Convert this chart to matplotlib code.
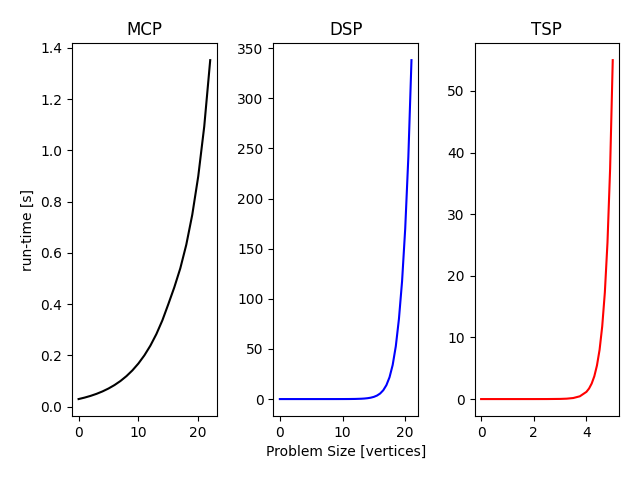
import matplotlib
matplotlib.use("Agg")
import matplotlib.pyplot as plt

titles = ["MCP", "DSP", "TSP"]
colors = ["black", "blue", "red"]

mcp_x = [0, 1, 2, 3, 4, 5, 6, 7, 8, 9, 10, 11, 12, 13, 14, 15, 16, 17, 18, 19, 20, 21, 22]
mcp_y = [0.0300, 0.0357, 0.0424, 0.0504, 0.0599, 0.0712, 0.0846, 0.1005, 0.1195, 0.1420,
         0.1688, 0.2006, 0.2384, 0.2834, 0.3368, 0.4003, 0.466, 0.540, 0.632, 0.749,
         0.899, 1.093, 1.352]

dsp_x = [0, 1, 2, 3, 4, 5, 6, 7, 8, 9, 10, 11, 12, 13, 13.5, 14, 14.5, 15, 15.5, 16,
         16.5, 17, 17.5, 18, 18.5, 19, 19.5, 20, 20.5, 21]
dsp_y = [0.0, 0.0, 0.0, 0.0, 0.0, 0.0, 0.0, 0.001, 0.003, 0.008, 0.02, 0.05, 0.13, 0.34,
         0.54, 0.87, 1.38, 2.2, 3.5, 5.55, 8.8, 13.9, 21.8, 34, 52.7, 80, 117.6, 170,
         241.4, 338]

tsp_x = [0, 0.5, 1.0, 1.5, 2.0, 2.5, 3.0, 3.25, 3.5, 3.75, 4.0, 4.1, 4.2, 4.3, 4.4, 4.5,
         4.6, 4.7, 4.8, 4.9, 5.0]
tsp_y = [0.0, 0.0, 0.0, 0.0, 0.0006, 0.004, 0.025, 0.065, 0.17, 0.45, 1.17, 1.71, 2.52,
         3.7, 5.45, 8.0, 11.8, 17.3, 25.4, 37.4, 55]

xs = [mcp_x, dsp_x, tsp_x]
ys = [mcp_y, dsp_y, tsp_y]

fig, axes = plt.subplots(1, 3, figsize=(6.4, 4.8), dpi=100)
for ax, x, y, t, c in zip(axes, xs, ys, titles, colors):
    ax.plot(x, y, color=c)
    ax.set_title(t)
axes[0].set_ylabel("run-time [s]")
axes[1].set_xlabel("Problem Size [vertices]")
fig.subplots_adjust(left=0.1125, right=0.9677, top=0.91, bottom=0.1333, wspace=0.39)
fig.savefig("out.png", dpi=100)
